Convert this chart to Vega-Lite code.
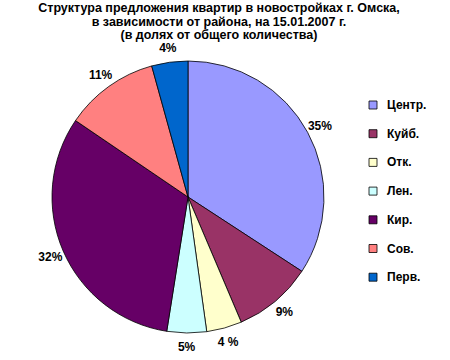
{
  "$schema": "https://vega.github.io/schema/vega-lite/v6.json",
  "autosize": "none",
  "width": 376,
  "height": 280,
  "padding": {"left": 0, "top": 57, "right": 74, "bottom": 23},
  "background": "white",
  "config": {"view": {"stroke": null}},
  "title": {
    "text": ["Структура предложения квартир в новостройках г. Омска,", "в зависимости от района, на 15.01.2007 г.", "(в долях от общего количества)"],
    "font": "Liberation Sans",
    "fontSize": 12.5,
    "fontWeight": "bold",
    "lineHeight": 13.5,
    "color": "black",
    "anchor": "middle",
    "dx": 31,
    "offset": 0.5
  },
  "data": {"values": [
    {"i": 1, "district": "Центр.", "share": 34.2, "label": "35%"},
    {"i": 2, "district": "Куйб.", "share": 9.4, "label": "9%"},
    {"i": 3, "district": "Отк.", "share": 4.2, "label": "4 %"},
    {"i": 4, "district": "Лен.", "share": 4.7, "label": "5%"},
    {"i": 5, "district": "Кир.", "share": 32.0, "label": "32%"},
    {"i": 6, "district": "Сов.", "share": 11.2, "label": "11%"},
    {"i": 7, "district": "Перв.", "share": 4.3, "label": "4%"}
  ]},
  "encoding": {
    "theta": {"field": "share", "type": "quantitative", "stack": true},
    "order": {"field": "i", "type": "quantitative"}
  },
  "layer": [
    {
      "mark": {"type": "arc", "outerRadius": 136, "stroke": "black", "strokeWidth": 0.8},
      "encoding": {
        "color": {
          "field": "district", "type": "nominal",
          "scale": {
            "domain": ["Центр.", "Куйб.", "Отк.", "Лен.", "Кир.", "Сов.", "Перв."],
            "range": ["#9999FF", "#993366", "#FFFFCC", "#CCFFFF", "#660066", "#FF8080", "#0066CC"]
          },
          "legend": {
            "title": null,
            "orient": "none",
            "legendX": 367,
            "legendY": 42,
            "symbolType": "square",
            "symbolSize": 64,
            "symbolStrokeColor": "black",
            "symbolStrokeWidth": 0.8,
            "rowPadding": 16.7,
            "labelFont": "Liberation Sans",
            "labelFontSize": 12,
            "labelFontWeight": "bold",
            "labelColor": "black",
            "labelOffset": 8
          }
        }
      }
    },
    {
      "mark": {"type": "text", "radius": 150, "font": "Liberation Sans", "fontSize": 12, "fontWeight": "bold", "color": "black"},
      "encoding": {
        "text": {"field": "label"}
      }
    }
  ]
}
